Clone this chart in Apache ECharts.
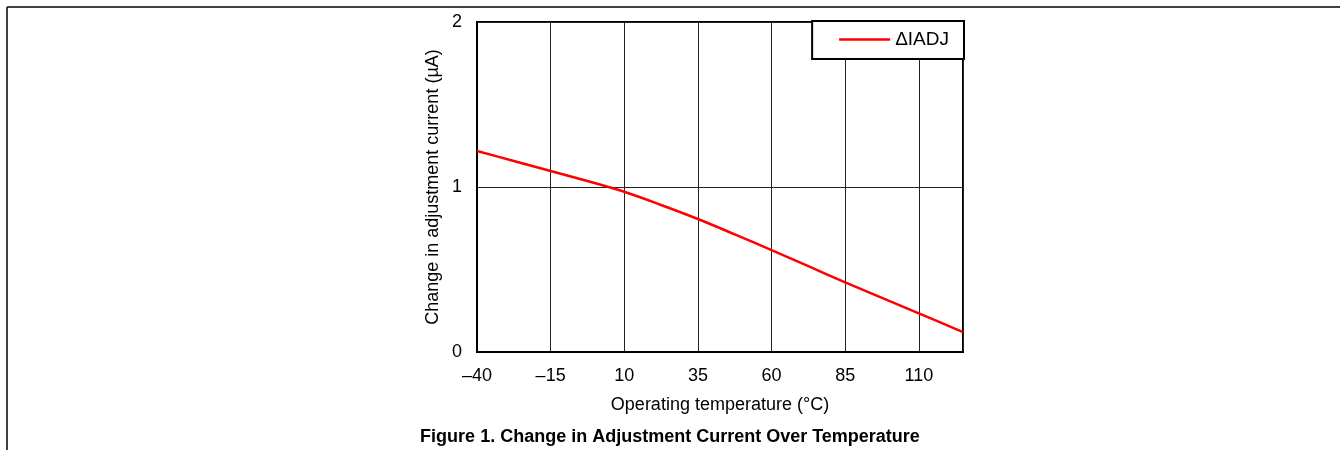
<!DOCTYPE html>
<html>
<head>
<meta charset="utf-8">
<script src="https://cdn.jsdelivr.net/npm/echarts@6/dist/echarts.min.js"></script>
<style>html,body{margin:0;padding:0;background:#fff;}#c{width:1340px;height:450px;}</style>
</head>
<body>
<div id="c"></div>
<script>
const temps = [-40, -27.5, -15, -2.5, 10, 22.5, 35, 47.5, 60, 72.5, 85, 97.5, 110, 125];
const deltaIadj = [1.218, 1.158, 1.097, 1.036, 0.971, 0.891, 0.806, 0.713, 0.618, 0.520, 0.422, 0.328, 0.234, 0.121];
const seriesName = 'ΔIADJ';
const xTitle = 'Operating temperature (°C)';
const yTitle = 'Change in adjustment current (µA)';
const caption = 'Figure 1. Change in Adjustment Current Over Temperature';

const font = 'Liberation Sans, Arial, sans-serif';
const chart = echarts.init(document.getElementById('c'));
chart.setOption({
  animation: false,
  backgroundColor: '#fff',
  title: {
    text: caption, left: 'center', top: 423,
    textStyle: { fontFamily: font, fontSize: 18, fontWeight: 'bold', color: '#000' }
  },
  graphic: [
    { type: 'line', shape: { x1: 7, y1: 7, x2: 1340, y2: 7 }, style: { stroke: '#000', lineWidth: 1.5 } },
    { type: 'line', shape: { x1: 7, y1: 7, x2: 7, y2: 450 }, style: { stroke: '#000', lineWidth: 1.5 } }
  ],
  legend: {
    data: [{ name: seriesName, icon: 'rect' }], right: 376, top: 21,
    backgroundColor: '#fff', borderColor: '#000', borderWidth: 2, borderRadius: 0,
    padding: [9, 15, 10, 27], itemWidth: 51, itemHeight: 2.5, itemGap: 0,
    textStyle: { fontFamily: font, fontSize: 19, color: '#000' }
  },
  grid: { left: 477, top: 22, width: 486, height: 330, show: true, borderColor: '#000', borderWidth: 2, containLabel: false },
  xAxis: {
    type: 'value', min: -40, max: 125, interval: 25,
    name: xTitle, nameLocation: 'middle', nameGap: 44,
    nameTextStyle: { fontFamily: font, fontSize: 18, color: '#000' },
    axisLine: { onZero: false, lineStyle: { color: '#000', width: 2 } },
    axisTick: { show: false },
    axisLabel: { fontFamily: font, fontSize: 18, color: '#000', margin: 15, showMaxLabel: false,
      formatter: v => (v < 0 ? '\u2013' + Math.abs(v) : String(v)) },
    splitLine: { show: true, lineStyle: { color: '#222', width: 1 } }
  },
  yAxis: {
    type: 'value', min: 0, max: 2, interval: 1,
    name: yTitle, nameLocation: 'middle', nameGap: 35,
    nameTextStyle: { fontFamily: font, fontSize: 18, color: '#000' },
    axisLine: { show: true, onZero: false, lineStyle: { color: '#000', width: 2 } },
    axisTick: { show: false },
    axisLabel: { fontFamily: font, fontSize: 18, color: '#000', margin: 15 },
    splitLine: { show: true, lineStyle: { color: '#222', width: 1 } }
  },
  series: [{
    name: seriesName, type: 'line', smooth: 0.3, symbol: 'none',
    data: temps.map((t, i) => [t, deltaIadj[i]]),
    lineStyle: { color: '#ff0000', width: 2.5 }, itemStyle: { color: '#ff0000' }
  }]
});
</script>
</body>
</html>
